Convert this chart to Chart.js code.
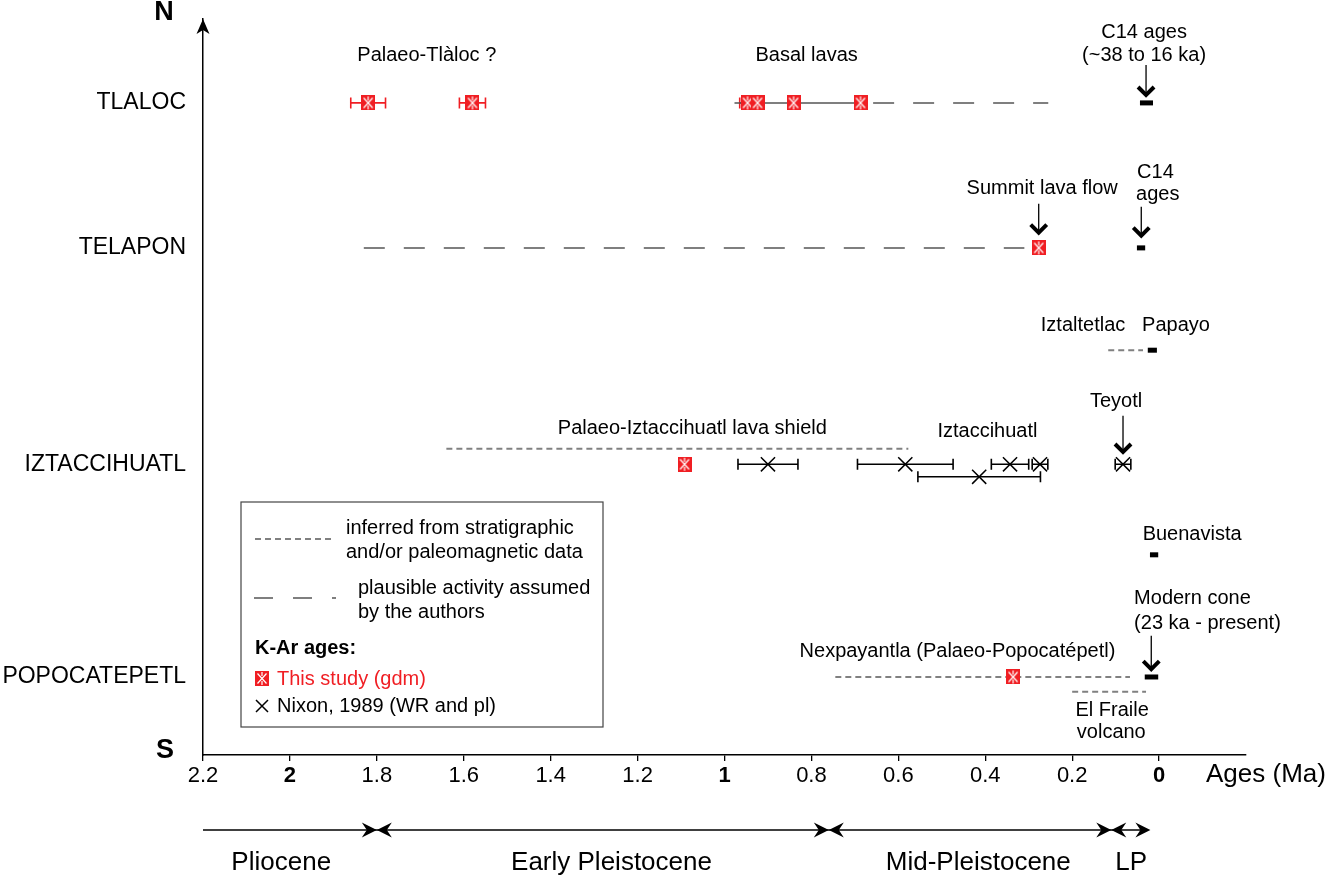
<!DOCTYPE html>
<html>
<head>
<meta charset="utf-8">
<script src="https://cdn.jsdelivr.net/npm/chart.js@4.4.1/dist/chart.umd.min.js"></script>
<style>
  body { margin: 0; background: #fff; }
  canvas { display: block; }
</style>
</head>
<body>
<canvas id="myChart" width="1327" height="880"></canvas>
<script>
'use strict';
// rows on the N-S axis (arbitrary units, 0 = bottom, 10 = top)
const volcanoNames = ['TLALOC', 'TELAPON', 'IZTACCIHUATL', 'POPOCATEPETL'];
const volcanoRows = [8.86, 6.89, 3.95, 1.06];

// K-Ar ages, this study (gdm), in Ma
const gdmAges = [1.82, 1.58, 0.947, 0.924, 0.841, 0.687, 0.277, 1.092, 0.336];
const gdmErrors = [0.04, 0.03, 0.018, 0.012, 0, 0, 0, 0, 0];
const gdmRows = [8.86, 8.86, 8.86, 8.86, 8.86, 8.86, 6.89, 3.95, 1.06];

// K-Ar ages, Nixon 1989
const nixonAges = [0.90, 0.584, 0.414, 0.343, 0.274, 0.083];
const nixonErrors = [0.069, 0.11, 0.141, 0.043, 0.018, 0.018];
const nixonRows = [3.95, 3.95, 3.78, 3.95, 3.95, 3.95];

// inferred from stratigraphic and/or paleomagnetic data
const inferredFrom = [1.64, 0.117, 0.745, 0.2];
const inferredTo = [0.577, 0.037, 0.067, 0.03];
const inferredRows = [4.16, 5.50, 1.06, 0.86];

// plausible activity assumed by the authors
const plausibleFrom = [0.658, 1.83];
const plausibleTo = [0.255, 0.31];
const plausibleRows = [8.86, 6.89];

// Tlaloc basal lavas span
const basalFrom = [0.977];
const basalTo = [0.687];
const basalRows = [8.86];

// C14 ages and young edifices
const recentFrom = [0.044, 0.051, 0.026, 0.021, 0.033];
const recentTo = [0.014, 0.032, 0.005, 0.002, 0.002];
const recentRows = [8.86, 6.89, 5.50, 2.72, 1.06];

// x ticks
const tickValues = [2.2, 2, 1.8, 1.6, 1.4, 1.2, 1, 0.8, 0.6, 0.4, 0.2, 0];
const boldTicks = [2, 1, 0];

// epochs
const epochNames = ['Pliocene', 'Early Pleistocene', 'Mid-Pleistocene', 'LP'];
const epochBounds = [2.2, 1.8, 0.76, 0.11, 0.02];
const epochLabelAt = [2.02, 1.26, 0.416, 0.064];

// labels and arrows (age, row)
const notes = [
  ['Palaeo-Tlàloc ?', 1.685, 9.50, 'center'],
  ['Basal lavas', 0.811, 9.50, 'center'],
  ['C14 ages', 0.0345, 9.82, 'center'],
  ['(~38 to 16 ka)', 0.0345, 9.51, 'center'],
  ['Summit lava flow', 0.269, 7.70, 'center'],
  ['C14', 0.0506, 7.92, 'left'],
  ['ages', 0.0529, 7.61, 'left'],
  ['Iztaltetlac', 0.175, 5.84, 'center'],
  ['Papayo', -0.039, 5.84, 'center'],
  ['Teyotl', 0.099, 4.80, 'center'],
  ['Palaeo-Iztaccihuatl lava shield', 1.074, 4.43, 'center'],
  ['Iztaccihuatl', 0.395, 4.40, 'center'],
  ['Buenavista', -0.076, 3.00, 'center'],
  ['Modern cone', 0.0575, 2.12, 'left'],
  ['(23 ka - present)', 0.0575, 1.79, 'left'],
  ['Nexpayantla (Palaeo-Popocatépetl)', 0.464, 1.40, 'center'],
  ['El Fraile', 0.108, 0.61, 'center'],
  ['volcano', 0.110, 0.30, 'center']
];
const arrows = [[0.03, 9.375, 8.94], [0.277, 7.49, 7.07], [0.041, 7.45, 7.03], [0.083, 4.61, 4.09], [0.018, 1.62, 1.14]];

const FONT = "'Liberation Sans', Arial, sans-serif";
const RED = '#f01e23';

function makeRedMark() {
  const c = document.createElement('canvas');
  c.width = 14; c.height = 15;
  const g = c.getContext('2d');
  g.fillStyle = RED;
  g.fillRect(0, 0, 14, 15);
  g.strokeStyle = '#fff';
  g.lineWidth = 1.2;
  g.beginPath();
  g.moveTo(2.5, 2.5); g.lineTo(11.5, 12.5);
  g.moveTo(11.5, 2.5); g.lineTo(2.5, 12.5);
  g.moveTo(7, 1); g.lineTo(7, 5);
  g.moveTo(7, 10); g.lineTo(7, 14);
  g.stroke();
  return c;
}
const redMark = makeRedMark();

function segment(from, to, row, style) {
  return Object.assign({
    data: [{x: from, y: row}, {x: to, y: row}],
    showLine: true, pointRadius: 0, fill: false
  }, style);
}

const datasets = [];
datasets.push({
  data: gdmAges.map((a, i) => ({x: a, y: gdmRows[i]})),
  pointStyle: redMark, pointRadius: 8, showLine: false
});
datasets.push({
  data: nixonAges.map((a, i) => ({x: a, y: nixonRows[i]})),
  pointStyle: 'crossRot', pointRadius: 10, pointBorderWidth: 1.5,
  pointBorderColor: '#000', showLine: false
});
for (let i = 0; i < recentFrom.length; i++) {
  datasets.push(segment(recentFrom[i], recentTo[i], recentRows[i], {borderColor: '#000', borderWidth: 5}));
}
for (let i = 0; i < basalFrom.length; i++) {
  datasets.push(segment(basalFrom[i], basalTo[i], basalRows[i], {borderColor: '#555', borderWidth: 1.5}));
}
for (let i = 0; i < plausibleFrom.length; i++) {
  datasets.push(segment(plausibleFrom[i], plausibleTo[i], plausibleRows[i], {borderColor: '#555', borderWidth: 1.5, borderDash: [21, 19]}));
}
for (let i = 0; i < inferredFrom.length; i++) {
  datasets.push(segment(inferredFrom[i], inferredTo[i], inferredRows[i], {borderColor: '#808080', borderWidth: 2, borderDash: [6, 4]}));
}

function errorBars(chart, ages, errs, rows, color) {
  const {ctx, scales: {x, y}} = chart;
  ctx.save();
  ctx.strokeStyle = color;
  ctx.lineWidth = 1.6;
  for (let i = 0; i < ages.length; i++) {
    if (!errs[i]) continue;
    const x1 = x.getPixelForValue(ages[i] + errs[i]);
    const x2 = x.getPixelForValue(ages[i] - errs[i]);
    const py = y.getPixelForValue(rows[i]);
    ctx.beginPath();
    ctx.moveTo(x1, py); ctx.lineTo(x2, py);
    ctx.moveTo(x1, py - 5.5); ctx.lineTo(x1, py + 5.5);
    ctx.moveTo(x2, py - 5.5); ctx.lineTo(x2, py + 5.5);
    ctx.stroke();
  }
  ctx.restore();
}

function headRight(ctx, tx, ty) {
  ctx.beginPath();
  ctx.moveTo(tx, ty); ctx.lineTo(tx - 15, ty - 7.5); ctx.lineTo(tx - 10, ty); ctx.lineTo(tx - 15, ty + 7.5);
  ctx.closePath(); ctx.fill();
}
function headLeft(ctx, tx, ty) {
  ctx.beginPath();
  ctx.moveTo(tx, ty); ctx.lineTo(tx + 15, ty - 7.5); ctx.lineTo(tx + 10, ty); ctx.lineTo(tx + 15, ty + 7.5);
  ctx.closePath(); ctx.fill();
}

const extras = {
  id: 'extras',
  beforeDatasetsDraw(chart) {
    errorBars(chart, nixonAges, nixonErrors, nixonRows, '#000');
    errorBars(chart, gdmAges, gdmErrors, gdmRows, RED);
  },
  afterDraw(chart) {
    const {ctx, chartArea: area, scales: {x, y}} = chart;
    ctx.save();
    ctx.fillStyle = '#000';
    ctx.strokeStyle = '#000';

    // y axis arrow head
    ctx.beginPath();
    ctx.moveTo(area.left, area.top);
    ctx.lineTo(area.left - 6.5, area.top + 15);
    ctx.lineTo(area.left, area.top + 11);
    ctx.lineTo(area.left + 6.5, area.top + 15);
    ctx.closePath(); ctx.fill();

    ctx.font = 'bold 27px ' + FONT;
    ctx.textAlign = 'center';
    ctx.textBaseline = 'alphabetic';
    ctx.fillText('N', 164, 20);
    ctx.fillText('S', 165, 758);

    ctx.font = '26px ' + FONT;
    ctx.textAlign = 'left';
    ctx.textBaseline = 'middle';
    ctx.fillText('Ages (Ma)', 1206, 775);

    // notes
    ctx.font = '20px ' + FONT;
    notes.forEach(n => {
      ctx.textAlign = n[3];
      ctx.fillText(n[0], x.getPixelForValue(n[1]), y.getPixelForValue(n[2]));
    });

    // arrows
    arrows.forEach(a => {
      const px = x.getPixelForValue(a[0]);
      const y1 = y.getPixelForValue(a[1]);
      const y2 = y.getPixelForValue(a[2]);
      ctx.lineWidth = 1.3;
      ctx.beginPath(); ctx.moveTo(px, y1); ctx.lineTo(px, y2 - 3); ctx.stroke();
      ctx.lineWidth = 4;
      ctx.beginPath(); ctx.moveTo(px - 8, y2 - 10); ctx.lineTo(px, y2 - 2); ctx.lineTo(px + 8, y2 - 10); ctx.stroke();
    });

    // epochs
    const ey = area.bottom + 75;
    ctx.lineWidth = 1.5;
    ctx.beginPath();
    ctx.moveTo(x.getPixelForValue(epochBounds[0]), ey);
    ctx.lineTo(x.getPixelForValue(epochBounds[epochBounds.length - 1]) - 4, ey);
    ctx.stroke();
    for (let i = 1; i < epochBounds.length; i++) {
      headRight(ctx, x.getPixelForValue(epochBounds[i]), ey);
      if (i < epochBounds.length - 1) headLeft(ctx, x.getPixelForValue(epochBounds[i]), ey);
    }
    ctx.font = '26px ' + FONT;
    ctx.textAlign = 'center';
    epochNames.forEach((name, i) => ctx.fillText(name, x.getPixelForValue(epochLabelAt[i]), ey + 33));

    // legend box
    ctx.lineWidth = 1.2;
    ctx.strokeStyle = '#444';
    ctx.strokeRect(241, 502, 362, 225);
    ctx.strokeStyle = '#808080';
    ctx.lineWidth = 2;
    ctx.setLineDash([6, 4]);
    ctx.beginPath(); ctx.moveTo(255, 539); ctx.lineTo(333, 539); ctx.stroke();
    ctx.strokeStyle = '#555';
    ctx.lineWidth = 1.5;
    ctx.setLineDash([19, 20]);
    ctx.beginPath(); ctx.moveTo(254, 598); ctx.lineTo(336, 598); ctx.stroke();
    ctx.setLineDash([]);

    ctx.font = '20px ' + FONT;
    ctx.textAlign = 'left';
    ctx.fillStyle = '#000';
    ctx.fillText('inferred from stratigraphic', 346, 528);
    ctx.fillText('and/or paleomagnetic data', 346, 552);
    ctx.fillText('plausible activity assumed', 358, 588);
    ctx.fillText('by the authors', 358, 612);
    ctx.font = 'bold 20px ' + FONT;
    ctx.fillText('K-Ar ages:', 255, 648);
    ctx.font = '20px ' + FONT;
    ctx.drawImage(redMark, 255, 671);
    ctx.fillStyle = RED;
    ctx.fillText('This study (gdm)', 277, 679);
    ctx.fillStyle = '#000';
    ctx.fillText('Nixon, 1989 (WR and pl)', 277, 706);
    ctx.strokeStyle = '#000';
    ctx.lineWidth = 1.5;
    ctx.beginPath();
    ctx.moveTo(256, 700); ctx.lineTo(268, 712);
    ctx.moveTo(268, 700); ctx.lineTo(256, 712);
    ctx.stroke();

    ctx.restore();
  }
};

const ctx = document.getElementById('myChart').getContext('2d');
const chart = new Chart(ctx, {
  type: 'scatter',
  data: {datasets: datasets},
  options: {
    responsive: false,
    animation: false,
    events: [],
    layout: {padding: {top: 19, right: 81, left: 0, bottom: 0}},
    plugins: {legend: {display: false}, tooltip: {enabled: false}},
    scales: {
      x: {
        type: 'linear', reverse: true, min: -0.2, max: 2.2,
        afterBuildTicks: s => { s.ticks = tickValues.map(v => ({value: v})); },
        afterFit: s => { s.height = 125; },
        ticks: {
          autoSkip: false, maxRotation: 0, color: '#000', padding: 2,
          callback: v => String(v),
          font: c => ({family: FONT, size: 22, weight: boldTicks.includes(c.tick && c.tick.value) ? 'bold' : 'normal'})
        },
        grid: {drawOnChartArea: false, tickLength: 6, color: '#000', lineWidth: 1.3},
        border: {color: '#000', width: 1.5}
      },
      y: {
        type: 'linear', min: 0, max: 10,
        afterBuildTicks: s => { s.ticks = volcanoRows.map(v => ({value: v})); },
        afterFit: s => { s.width = 203; s.paddingTop = 0; s.paddingBottom = 0; },
        ticks: {
          color: '#000', padding: 17, autoSkip: false,
          callback: (v, i) => volcanoNames[i],
          font: {family: FONT, size: 23}
        },
        grid: {display: false, drawTicks: false},
        border: {color: '#000', width: 1.5}
      }
    }
  },
  plugins: [extras]
});
</script>
</body>
</html>
